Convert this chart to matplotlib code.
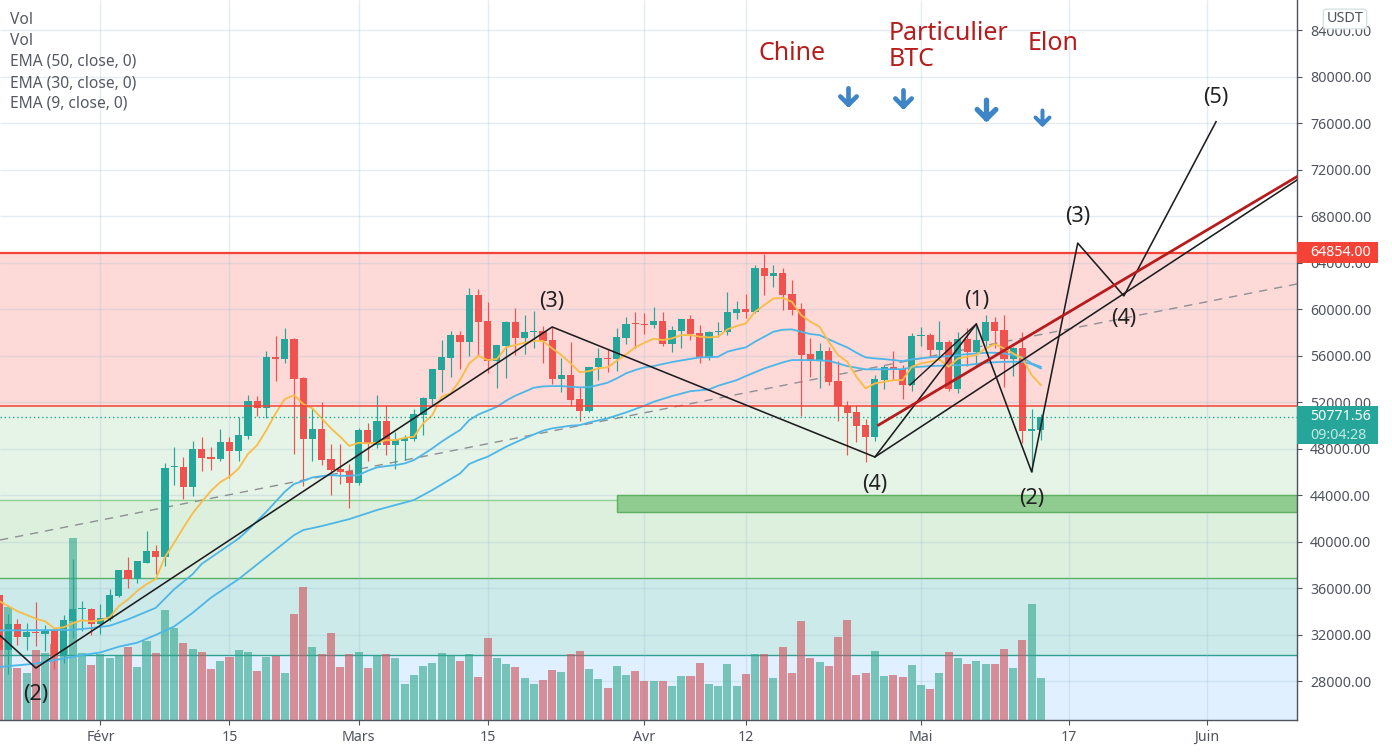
"""BTC/USDT daily chart with Elliott wave count, redrawn from a TradingView capture."""

import matplotlib

matplotlib.use("Agg")

import matplotlib.pyplot as plt
import numpy as np
from matplotlib.markers import MarkerStyle
from matplotlib.patches import FancyBboxPatch, Rectangle
from matplotlib.path import Path

FONT = "Noto Sans"
plt.rcParams["font.family"] = [FONT, "DejaVu Sans"]

COLORS = {
    "up": "#26a69a",
    "down": "#ef5350",
    "vol_up": "#2fa58b",
    "vol_down": "#d05a62",
    "axis": "#50535e",
    "text": "#555962",
    "grid": "#9fbdd0",
    "ema9": "#f9bd45",
    "ema": "#4db6e8",
    "wave": "#1d1d1f",
    "trend": "#b71c1c",
    "level": "#f44336",
    "note": "#b71c1c",
    "arrow": "#3d85c6",
}

# bar index 0 is 1 Feb 2021
FIRST_BAR = -11
opens = [
    35400, 30640, 32880, 31830, 32180, 32090, 32355, 30170, 33140, 34160, 34190,
    32880, 33320, 35320, 37590, 36810, 38200, 39160, 38640, 46390, 46420, 44700, 47970, 47280, 47110,
    48570, 47800, 49090, 52100, 51500, 55890, 55720, 57440, 54080, 48830, 49690, 47110, 46250, 46075,
    45040, 49600, 48310, 50380, 48310, 48650, 48830, 50890, 52270, 54770, 55800, 57780, 57180, 61225,
    58990, 55540, 56835, 58900, 57520, 58040, 58130, 57350, 53990, 54340, 52270, 51240, 55030, 55800, 55715, 57520,
    58730, 58720, 58640, 58990, 57000, 58130, 59160, 57950, 55890, 58040, 58040, 59700, 60020, 59760, 63550, 62860,
    63120, 61310, 60020, 56150, 55540, 56400, 53820, 51640, 51150, 50030, 49000, 53900, 55030, 54850, 53480,
    57690, 57780, 56490, 57180, 53130, 57440, 56320, 57260, 58900, 58210, 55715, 56660, 49515, 49600,
]
highs = [
    35600, 33800, 33300, 32970, 34800, 32790, 32600, 33660, 38470, 34890, 34280,
    34620, 35930, 37590, 38640, 38290, 40950, 39690, 46764, 48140, 47280, 48650, 49000, 48140, 49690,
    49000, 50725, 52620, 52530, 56400, 57700, 58390, 57530, 54170, 51410, 52020, 48400, 48400, 46680,
    49775, 50200, 52620, 51750, 49430, 49170, 51410, 52440, 54855, 57350, 58130, 58130, 61830, 61740,
    60620, 56920, 58990, 60110, 59500, 59850, 58560, 58470, 55800, 57180, 53300, 55030, 56660, 56580, 58390, 59330,
    59760, 59680, 60190, 59760, 58560, 59160, 59500, 58640, 58125, 58900, 61480, 60710, 61310, 63810, 64750, 63810,
    63550, 62520, 60540, 57520, 57090, 56750, 55540, 52100, 51750, 50550, 54340, 55200, 56400, 55200, 57950,
    58470, 57950, 58990, 57350, 58040, 58380, 58640, 59500, 59330, 59500, 56750, 58040, 51410, 50980,
]
lows = [
    30300, 28600, 31100, 30700, 31050, 30610, 29040, 29560, 31740, 32270, 32000,
    32090, 33200, 35240, 36020, 36460, 38120, 37240, 37860, 44870, 43660, 43920, 46075, 46160, 46935,
    45470, 46935, 48830, 50810, 50640, 53820, 55370, 47540, 44780, 46935, 46590, 44010, 44960, 42890,
    44870, 46930, 48050, 47450, 46240, 47020, 48700, 49170, 51670, 52875, 54170, 54855, 55975, 56000,
    54510, 53220, 54080, 56060, 56150, 56660, 55370, 53560, 52875, 51670, 50380, 51150, 53910, 54600, 54680, 57010,
    56660, 57870, 58390, 56835, 56320, 56660, 57350, 55370, 55630, 57610, 57780, 59160, 59240, 59700, 61220, 61910,
    59930, 59500, 50810, 54160, 53220, 53480, 50380, 47450, 48570, 46850, 48650, 53130, 53900, 52270, 52960,
    56830, 55890, 55630, 52960, 52790, 55110, 55110, 56830, 56660, 53300, 54250, 48480, 46000, 48740,
]
closes = [
    30640, 32880, 31830, 32180, 32100, 32380, 30170, 33230, 34190, 34190, 32880,
    33400, 35410, 37590, 36810, 38290, 39160, 38640, 46374, 46420, 44700, 47970, 47200, 47110, 48570,
    47800, 49175, 52100, 51500, 55890, 55720, 57440, 54000, 48830, 49690, 47020, 46160, 45990, 45040,
    49600, 48400, 50380, 48310, 48740, 48910, 50980, 52360, 54855, 55890, 57780, 57180, 61225, 58900,
    55540, 56920, 58900, 57520, 58040, 58130, 57270, 53990, 54340, 52185, 51240, 55030, 55800, 55740, 57610, 58730,
    58700, 58680, 58990, 57000, 58210, 59160, 57870, 55890, 58040, 58125, 59760, 60020, 59760, 63550, 62860, 63120,
    61220, 59930, 56060, 55540, 56400, 53730, 51640, 51065, 49945, 49000, 53990, 55030, 54770, 53480, 57690,
    57780, 56490, 57180, 53130, 57440, 56320, 57350, 58900, 58125, 55715, 56660, 49515, 49690, 50771.56,
]
volumes = [
    241, 333, 153, 138, 207, 198, 225, 216, 537, 198, 162,
    195, 183, 192, 216, 156, 231, 198, 324, 270, 228, 210, 201, 150, 174,
    186, 207, 201, 144, 186, 189, 138, 312, 393, 216, 195, 255, 156, 195,
    201, 153, 192, 195, 183, 105, 132, 159, 168, 198, 192, 174, 195, 126,
    240, 183, 165, 156, 123, 105, 117, 147, 141, 195, 204, 150, 120, 93, 159, 132,
    144, 114, 114, 114, 99, 129, 129, 168, 105, 99, 165, 99, 135, 195, 195, 123,
    216, 138, 291, 183, 171, 159, 243, 294, 132, 138, 204, 129, 132, 126, 162,
    102, 90, 138, 201, 183, 165, 174, 165, 165, 210, 153, 234, 342, 123,
]

ema9_bars = [
    -11, -9, -7, -6, -5, -4, -3, -2, -1, 0, 1, 2, 3, 4, 5, 6, 7, 8, 9, 10, 11, 12, 13, 14, 15, 16, 17, 18, 19, 20,
    21, 22, 23, 24, 25, 26, 27, 28, 29, 30, 31, 32, 33, 34, 35, 36, 37, 38, 39, 40, 41, 42, 43, 44, 45, 46, 47, 48,
    49, 50, 51, 52, 53, 54, 55, 56, 57, 58, 59, 60, 61, 62, 63, 64, 65, 66, 67, 68, 69, 70, 71, 72, 73, 74, 75, 76,
    77, 78, 79, 80, 81, 82, 83, 84, 85, 86, 87, 88, 89, 90, 91, 92, 93, 94, 95, 96, 97, 98, 99, 100, 101, 102,
]
ema9_values = [
    34890, 34010, 33370, 33140, 32530, 32620, 32970, 33230, 33140, 33230, 33490, 34450, 35030, 35760, 36340, 36780,
    38670, 39900, 41200, 42430, 43430, 44380, 45120, 45590, 46300, 47540, 48310, 49600, 51040, 52270,
    52620, 51840, 51470, 50610, 49750, 49030, 48230, 48510, 48460, 48510, 48740, 48740, 48940, 49030, 50180, 50890,
    52470, 52760, 53910, 55340, 56000, 55630, 55715, 56720, 56920, 57120, 57290, 57270,
    56630, 56060, 55340, 54570, 54680, 54910, 55000, 55570, 56120, 56720, 57120, 57470, 57350, 57500, 57780, 57780,
    57640, 57580, 57640, 58270, 58560, 58790, 59790, 60360, 60940, 60970, 60650, 59500,
    58930, 58500, 57210, 56060, 55480, 54190, 53190, 53620, 53760, 53900, 53900, 55050, 55340, 55480, 55690, 55050,
    55770, 55920, 56060, 56630, 57000, 56630, 56200, 55770, 54340, 53480,
]
ema30_bars = [
    -11, -3, -1, 1, 3, 6, 8, 10, 11, 15, 16, 18, 20, 21, 22, 23, 24, 25, 26, 27, 28, 29, 30, 31, 32, 33, 34, 35, 36,
    37, 38, 39, 40, 41, 42, 43, 44, 45, 46, 47, 48, 49, 50, 51, 52, 53, 54, 55, 56, 57, 58, 59, 60, 61, 62, 63, 64,
    65, 66, 67, 68, 69, 70, 71, 72, 73, 74, 75, 76, 77, 78, 79, 80, 81, 82, 83, 84, 85, 86, 87, 88, 89, 90, 91, 92,
    93, 94, 95, 96, 97, 98, 99, 100, 101, 102,
]
ema30_values = [
    32355, 32400, 32560, 32760, 33310, 34300, 35900, 37200, 38090, 40270, 40995, 42570, 44300, 44960, 45220, 45530,
    45640, 45730, 45670, 45670, 45730, 46100, 46390, 46500, 46590, 46730, 47020, 47510, 48030,
    48600, 49120, 49600, 50460, 50950, 51270, 51610, 52130, 52560, 52900, 53250, 53360, 53390, 53390, 53330, 53280,
    53300, 53480, 53680, 54050, 54480, 54770, 55000, 55110, 55290, 55460, 55600, 55730,
    55860, 55880, 55915, 56350, 56550, 56720, 57210, 57640, 58070, 58240, 58270, 58070, 57870, 57780, 57410, 57060,
    56720, 56260, 55860, 55770, 55710, 55630, 55540, 55690, 55770, 55860, 55915, 55970,
    56060, 56140, 56200, 56260, 56260, 56200, 56060, 55860, 55340, 55050,
]
ema50_bars = [
    -11, -7, -4, -2, 0, 2, 4, 6, 8, 10, 12, 15, 18, 21, 22, 24, 27, 30, 34, 36, 39, 40, 41, 42, 44, 46, 48, 49, 51,
    52, 53, 55, 57, 59, 60, 62, 64, 66, 67, 69, 70, 72, 74, 75, 77, 79, 81, 83, 84, 87, 88, 90, 92, 94, 96, 98, 100,
    101, 102,
]
ema50_values = [
    29210, 29500, 29940, 30230, 30460, 30960, 31300, 31970, 32700, 33870, 35180, 36780, 38670, 40560, 40995, 41340,
    41940, 42720, 43580, 44440, 45870, 46680, 47020, 47310, 48170, 48890, 49550, 49750, 49980,
    50030, 50260, 50610, 51120, 51700, 52040, 52530, 52950, 53100, 53420, 53900, 54250, 54910, 55430, 55630, 55630,
    55570, 55110, 54830, 54830, 54850, 55000, 55110, 55170, 55200, 55400, 55480, 55480,
    55280, 54910,
]

wave_bars = [-11, -7, 49, 84, 95, 101, 106, 111, 121]
wave_prices = [32000, 29120, 58480, 47285, 58735, 46000, 65700, 61150, 76150]
wave_labels = [
    ("(2)", -7, 26880), ("(3)", 49, 60650), ("(4)", 84, 44950), ("(1)", 95, 60800),
    ("(2)", 101, 43700), ("(3)", 106, 68000), ("(4)", 111, 59200), ("(5)", 121, 78250),
]

support_bars = [84, 129.78]
support_prices = [47285, 71130]
short_leg_bars = [87.8, 95]
short_leg_prices = [53480, 58735]
channel_bars = [84.4, 129.78]
channel_prices = [50040, 71420]
long_trend_bars = [-10.89, 129.78]
long_trend_prices = [40140, 62180]

news_bars = [81.1, 87.1, 96.1, 102.1]
news_prices = [78390, 78215, 77220, 76560]
news_sizes = [21, 21, 24, 18]

LAST_PRICE = 50771.56
RESIST_TOP = 64854
RESIST_BOTTOM = 51670
GREEN_EDGE = 43580
GREEN_BOTTOM = 36870
TEAL_BOTTOM = 30240
SUPPORT_BOX = (42550, 44000)
SUPPORT_BOX_START = 56

price_ticks = np.arange(28000, 84001, 4000)
time_ticks = [0, 14, 28, 42, 59, 70, 89, 105, 120]
time_labels = ["Févr", "15", "Mars", "15", "Avr", "12", "Mai", "17", "Juin"]
month_labels = ["Févr", "Mars", "Avr", "Mai", "Juin"]
legend_lines = ["Vol", "Vol", "EMA (50, close, 0)", "EMA (30, close, 0)", "EMA (9, close, 0)"]

WIDTH, HEIGHT = 1392, 752
PANE_RIGHT, PANE_BOTTOM = 1297, 719.6
XLIM = (-10.89, 129.78)
YLIM = (24680, 86625)
VOL_TOP = 2128  # volume units over the full pane height
PRICE_PER_PX = 86.09


def fx(px):
    return px / WIDTH


def fy(px):
    return 1 - px / HEIGHT


def draw_bands(ax):
    bands = [
        (RESIST_BOTTOM, RESIST_TOP, "#fdd9d8"),
        (GREEN_EDGE, RESIST_BOTTOM, "#e6f4e7"),
        (GREEN_BOTTOM, GREEN_EDGE, "#ddf0de"),
        (TEAL_BOTTOM, GREEN_BOTTOM, "#cceae9"),
        (YLIM[0], TEAL_BOTTOM, "#e0f0fe"),
    ]
    for low, high, color in bands:
        ax.axhspan(low, high, color=color, lw=0, zorder=0)
    ax.axhline(RESIST_TOP, color=COLORS["level"], lw=1.6, zorder=4)
    ax.axhline(RESIST_BOTTOM, color=COLORS["level"], lw=1.1, zorder=4)
    ax.axhline(GREEN_EDGE, color="#8fd08f", lw=1.0, zorder=1)
    ax.axhline(GREEN_BOTTOM, color="#5aaf6a", lw=1.0, zorder=1)
    ax.axhline(TEAL_BOTTOM, color="#2f9e94", lw=1.0, zorder=1)
    ax.add_patch(Rectangle(
        (SUPPORT_BOX_START, SUPPORT_BOX[0]),
        XLIM[1] - SUPPORT_BOX_START,
        SUPPORT_BOX[1] - SUPPORT_BOX[0],
        facecolor="#90cc90",
        edgecolor="#5cb060",
        lw=1.0,
        zorder=1.5,
    ))


def draw_candles(ax, bars, up):
    colors = [COLORS["up"] if u else COLORS["down"] for u in up]
    ax.vlines(bars, lows, highs, colors=colors, lw=0.85, zorder=3)
    bottoms = np.minimum(opens, closes)
    heights = np.maximum(np.abs(np.array(closes) - np.array(opens)), 90)
    ax.bar(bars, heights, bottom=bottoms, width=0.78, color=colors, lw=0, zorder=3.1)


def down_arrow_marker():
    path = Path(
        [(0, 0.5), (0, -0.5), (-0.5, 0.0), (0, -0.5), (0.5, 0.0)],
        [Path.MOVETO, Path.LINETO, Path.MOVETO, Path.LINETO, Path.LINETO],
    )
    return MarkerStyle(path, fillstyle="none", capstyle="round", joinstyle="round")


def draw_price_boxes(fig, ax):
    blend = ax.get_yaxis_transform()
    box_w = 81 / PANE_RIGHT
    text_x = 1 + 13 / PANE_RIGHT
    red_h = 21 * PRICE_PER_PX
    ax.add_patch(Rectangle(
        (1, RESIST_TOP - red_h / 2), box_w, red_h,
        transform=blend, facecolor=COLORS["level"], lw=0, clip_on=False, zorder=20,
    ))
    ax.text(text_x, RESIST_TOP, "64854.00", transform=blend, color="white",
            fontsize=10.2, va="center", ha="left", clip_on=False, zorder=21)
    green_top = LAST_PRICE + 10.5 * PRICE_PER_PX
    green_h = 38 * PRICE_PER_PX
    ax.add_patch(Rectangle(
        (1, green_top - green_h), box_w, green_h,
        transform=blend, facecolor=COLORS["up"], lw=0, clip_on=False, zorder=20,
    ))
    ax.text(text_x, LAST_PRICE, "50771.56", transform=blend, color="white",
            fontsize=10.2, va="center", ha="left", clip_on=False, zorder=21)
    ax.text(text_x, LAST_PRICE - 18.5 * PRICE_PER_PX, "09:04:28", transform=blend, color="#c4e8e4",
            fontsize=10.2, va="center", ha="left", clip_on=False, zorder=21)
    fig.add_artist(FancyBboxPatch(
        (fx(1325), fy(28)), fx(40), fy(10) - fy(28),
        boxstyle="round,pad=0.0012,rounding_size=0.003",
        transform=fig.transFigure, facecolor="white", edgecolor="#d5e0e0", lw=0.9, zorder=20,
    ))
    fig.text(fx(1345), fy(18.5), "USDT", color=COLORS["axis"], fontsize=10.4, ha="center", va="center", zorder=21)


def main():
    bars = np.arange(FIRST_BAR, FIRST_BAR + len(closes))
    up = np.array(closes) >= np.array(opens)

    fig = plt.figure(figsize=(WIDTH / 100, HEIGHT / 100), dpi=100, facecolor="white")
    ax = fig.add_axes([0, 1 - PANE_BOTTOM / HEIGHT, PANE_RIGHT / WIDTH, PANE_BOTTOM / HEIGHT])
    ax.set_xlim(*XLIM)
    ax.set_ylim(*YLIM)

    draw_bands(ax)
    ax.hlines(price_ticks, *XLIM, color=COLORS["grid"], alpha=0.28, lw=1.0, zorder=1.2)
    ax.vlines(time_ticks, *YLIM, color=COLORS["grid"], alpha=0.28, lw=1.0, zorder=1.2)

    # volume shares the x axis, its height is a fraction of the pane
    vol_colors = [COLORS["vol_up"] if u else COLORS["vol_down"] for u in up]
    vol_alpha = [0.6 if u else 0.65 for u in up]
    vol_bars = ax.bar(bars, np.array(volumes) / VOL_TOP, width=0.87, color=vol_colors, lw=0,
                      transform=ax.get_xaxis_transform(), zorder=2)
    for patch, alpha in zip(vol_bars, vol_alpha):
        patch.set_alpha(alpha)

    ax.plot(long_trend_bars, long_trend_prices, color="#8f8f94", lw=1.0, dashes=(6, 5), zorder=2.5)
    draw_candles(ax, bars, up)
    ax.plot(ema50_bars, ema50_values, color=COLORS["ema"], lw=1.3, zorder=3.5)
    ax.plot(ema30_bars, ema30_values, color=COLORS["ema"], lw=1.3, zorder=3.5)
    ax.plot(ema9_bars, ema9_values, color=COLORS["ema9"], lw=1.3, zorder=3.5)
    ax.axhline(LAST_PRICE, color=COLORS["up"], lw=1.0, ls=(0, (1, 2)), zorder=3.6)

    ax.plot(wave_bars, wave_prices, color=COLORS["wave"], lw=1.15, zorder=5)
    ax.plot(support_bars, support_prices, color=COLORS["wave"], lw=1.15, zorder=5)
    ax.plot(short_leg_bars, short_leg_prices, color=COLORS["wave"], lw=1.0, zorder=5)
    ax.plot(channel_bars, channel_prices, color=COLORS["trend"], lw=2.0, zorder=5.2)

    for label, bar, price in wave_labels:
        ax.text(bar, price, label, color="#222222", fontsize=15.5, ha="center", va="center", zorder=6)

    arrow = down_arrow_marker()
    for bar, price, size in zip(news_bars, news_prices, news_sizes):
        ax.plot([bar], [price], marker=arrow, markersize=size * 0.56, markeredgewidth=size * 0.16,
                color=COLORS["arrow"], ls="none", zorder=7)

    note_style = dict(color=COLORS["note"], fontsize=18, ha="left", va="center", weight="medium")
    fig.text(fx(759), fy(54), "Chine", **note_style)
    fig.text(fx(889), fy(33), "Particulier", **note_style)
    fig.text(fx(889), fy(59), "BTC", **note_style)
    fig.text(fx(1028), fy(43), "Elon", **note_style)

    for row, line in enumerate(legend_lines):
        fig.text(fx(10), fy(20 + 21 * row), line, color=COLORS["text"], fontsize=11.2, ha="left", va="center")

    for side in ("top", "left"):
        ax.spines[side].set_visible(False)
    for side in ("right", "bottom"):
        ax.spines[side].set_color(COLORS["axis"])
        ax.spines[side].set_linewidth(1.0)

    ax.yaxis.tick_right()
    ax.set_yticks(price_ticks, [f"{p:.2f}" for p in price_ticks])
    ax.set_xticks(time_ticks, time_labels)
    ax.tick_params(axis="y", length=3.5, width=0.8, color=COLORS["axis"], labelcolor=COLORS["axis"],
                   labelsize=10.2, pad=6)
    ax.tick_params(axis="x", length=3.5, width=0.8, color=COLORS["axis"], labelcolor=COLORS["axis"],
                   labelsize=10.2, pad=4)
    for tick in ax.get_xticklabels():
        if tick.get_text() in month_labels:
            tick.set_fontweight("bold")

    draw_price_boxes(fig, ax)

    fig.savefig("out.png", dpi=100, facecolor="white")
    plt.close(fig)


if __name__ == "__main__":
    main()
